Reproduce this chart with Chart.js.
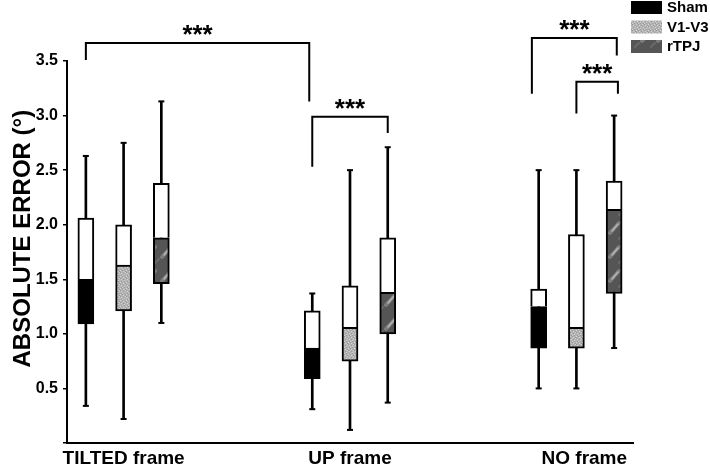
<!DOCTYPE html>
<html>
<head>
<meta charset="utf-8">
<script src="https://cdn.jsdelivr.net/npm/chart.js@4/dist/chart.umd.min.js"></script>
<style>
  html, body { margin: 0; padding: 0; background: #fff; }
  #wrap { width: 710px; height: 468px; }
</style>
</head>
<body>
<div id="wrap"><canvas id="myChart" width="710" height="468"></canvas></div>
<script>
// grupos (eje x) y condiciones
const grupos = ['TILTED frame', 'UP frame', 'NO frame'];
const condiciones = ['Sham', 'V1-V3', 'rTPJ'];

// [min, q1, mediana, q3, max] por grupo
const sham = [[0.34, 1.09, 1.50, 2.06, 2.63], [0.31, 0.59, 0.87, 1.21, 1.37], [0.50, 0.87, 1.25, 1.41, 2.50]];
const v1v3 = [[0.22, 1.21, 1.63, 2.00, 2.75], [0.12, 0.75, 1.06, 1.44, 2.50], [0.50, 0.87, 1.06, 1.91, 2.50]];
const rtpj = [[1.10, 1.46, 1.88, 2.38, 3.13], [0.37, 1.00, 1.38, 1.88, 2.71], [0.87, 1.37, 2.14, 2.40, 3.00]];

const yTicks = [0.5, 1.0, 1.5, 2.0, 2.5, 3.0, 3.5];

// corchetes de significancia (x en posiciones de caja, y en valores)
const corchetes = [
  { x1: 0, x2: 5.92, top: 3.665, y1: 3.51, y2: 3.13, texto: '***' },
  { x1: 6, x2: 8, top: 2.99, y1: 2.53, y2: 2.84, texto: '***' },
  { x1: 11.82, x2: 14.07, top: 3.71, y1: 3.20, y2: 3.55, texto: '***' },
  { x1: 13, x2: 14.1, top: 3.31, y1: 3.02, y2: 3.20, texto: '***' }
];

const FUENTE = "'Liberation Sans', Arial, sans-serif";

// texturas
function patronGris() {
  const c = document.createElement('canvas');
  c.width = 6; c.height = 6;
  const g = c.getContext('2d');
  g.fillStyle = '#b4b4b4';
  g.fillRect(0, 0, 6, 6);
  const claros = [[0, 0], [3, 1], [1, 3], [4, 4], [2, 5], [5, 2]];
  const oscuros = [[2, 0], [5, 1], [0, 2], [3, 3], [1, 5], [4, 5]];
  g.fillStyle = '#d2d2d2';
  claros.forEach(p => g.fillRect(p[0], p[1], 1, 1));
  g.fillStyle = '#989898';
  oscuros.forEach(p => g.fillRect(p[0], p[1], 1, 1));
  return g.createPattern(c, 'repeat');
}

function patronRayas() {
  const c = document.createElement('canvas');
  c.width = 16; c.height = 24;
  const g = c.getContext('2d');
  g.fillStyle = '#555555';
  g.fillRect(0, 0, 16, 24);
  g.lineCap = 'round';
  g.strokeStyle = '#7c7c7c';
  g.lineWidth = 4;
  g.beginPath();
  g.moveTo(2, 17); g.lineTo(11, 7);
  g.stroke();
  g.strokeStyle = '#b8b8b8';
  g.lineWidth = 1.5;
  g.beginPath();
  g.moveTo(4, 15); g.lineTo(10, 8);
  g.stroke();
  g.strokeStyle = '#6a6a6a';
  g.lineWidth = 2;
  g.beginPath();
  g.moveTo(11, 23); g.lineTo(15, 19);
  g.stroke();
  return g.createPattern(c, 'repeat');
}

const rellenos = ['#000000', patronGris(), patronRayas()];
const datosPorCond = [sham, v1v3, rtpj];

// 15 posiciones: cada grupo ocupa 3 cajas y deja 3 huecos
const nSlots = 15;
const etiquetas = [];
for (let i = 0; i < nSlots; i++) etiquetas.push('');
grupos.forEach((g, gi) => { etiquetas[gi * 6 + 1] = g; });

const bigote = [], inferior = [], superior = [], minimos = [], maximos = [], colores = [];
for (let i = 0; i < nSlots; i++) {
  bigote.push(null); inferior.push(null); superior.push(null);
  minimos.push(null); maximos.push(null); colores.push('#fff');
}
grupos.forEach((g, gi) => {
  condiciones.forEach((c, ci) => {
    const s = gi * 6 + ci;
    const d = datosPorCond[ci][gi];
    bigote[s] = [d[0], d[4]];
    inferior[s] = [d[1], d[2]];
    superior[s] = [d[2], d[3]];
    minimos[s] = d[0];
    maximos[s] = d[4];
    colores[s] = rellenos[ci];
  });
});

const pluginExtras = {
  id: 'extras',
  afterDatasetsDraw(chart) {
    const ctx = chart.ctx;
    const x = chart.scales.x, y = chart.scales.y;
    ctx.save();
    ctx.strokeStyle = '#000';
    ctx.lineWidth = 2;
    ctx.fillStyle = '#000';
    ctx.font = "bold 26px " + FUENTE;
    ctx.textAlign = 'center';
    ctx.textBaseline = 'middle';
    corchetes.forEach(b => {
      const xa = x.getPixelForValue(b.x1), xb = x.getPixelForValue(b.x2);
      const yt = y.getPixelForValue(b.top);
      ctx.beginPath();
      ctx.moveTo(xa, y.getPixelForValue(b.y1));
      ctx.lineTo(xa, yt);
      ctx.lineTo(xb, yt);
      ctx.lineTo(xb, y.getPixelForValue(b.y2));
      ctx.stroke();
      ctx.fillText(b.texto, (xa + xb) / 2, yt - 7);
    });

    // leyenda
    const leyX = 631, leyY = 1, paso = 19.5;
    const muestras = ['#000000', patronGris(), patronRayas()];
    ctx.font = "bold 15px " + FUENTE;
    ctx.textAlign = 'left';
    condiciones.forEach((c, i) => {
      ctx.fillStyle = muestras[i];
      ctx.fillRect(leyX, leyY + i * paso, 31, 13);
      ctx.fillStyle = '#000';
      ctx.fillText(c, leyX + 36, leyY + i * paso + 7);
    });
    ctx.restore();
  }
};

const ctx = document.getElementById('myChart').getContext('2d');
const chart = new Chart(ctx, {
  data: {
    labels: etiquetas,
    datasets: [
      {
        type: 'bar', label: 'bigote', data: bigote,
        backgroundColor: '#000', barThickness: 2, grouped: false, order: 3
      },
      {
        type: 'bar', label: 'q1-mediana', data: inferior,
        backgroundColor: colores, borderColor: '#000', borderWidth: 2,
        borderSkipped: false, barThickness: 16, grouped: false, order: 2
      },
      {
        type: 'bar', label: 'mediana-q3', data: superior,
        backgroundColor: '#fff', borderColor: '#000', borderWidth: 2,
        borderSkipped: 'bottom', barThickness: 16, grouped: false, order: 2
      },
      {
        type: 'line', label: 'min', data: minimos, showLine: false,
        pointStyle: 'line', pointRadius: 3, borderColor: '#000', borderWidth: 2, order: 0
      },
      {
        type: 'line', label: 'max', data: maximos, showLine: false,
        pointStyle: 'line', pointRadius: 3, borderColor: '#000', borderWidth: 2, order: 0
      }
    ]
  },
  options: {
    responsive: false,
    animation: false,
    layout: { padding: { top: 61, right: 77, left: 0, bottom: 0 } },
    plugins: {
      legend: { display: false },
      tooltip: { enabled: false }
    },
    scales: {
      x: {
        type: 'category',
        offset: true,
        grid: { display: false },
        border: { display: true, color: '#000', width: 2 },
        ticks: {
          autoSkip: false, maxRotation: 0, minRotation: 0, padding: -4,
          color: '#000',
          font: { family: FUENTE, size: 19, weight: 'bold' },
          // la última etiqueta va algo desplazada a la derecha
          callback: function (v, i) {
            const t = this.getLabelForValue(v);
            return i === 13 ? '\u00a0\u00a0\u00a0' + t : t;
          }
        },
        afterFit(scale) { scale.height = 25; }
      },
      y: {
        min: 0, max: 3.5,
        afterBuildTicks(scale) {
          scale.ticks = [0].concat(yTicks).map(v => ({ value: v }));
        },
        grid: { drawOnChartArea: false, drawTicks: true, tickLength: 4, color: '#000', lineWidth: 1.5 },
        border: { display: true, color: '#000', width: 2 },
        ticks: {
          color: '#000', padding: 5,
          font: { family: FUENTE, size: 16, weight: 'bold' },
          callback: v => (v === 0 ? '' : v.toFixed(1))
        },
        title: {
          display: true, text: '\u00a0\u00a0\u00a0\u00a0ABSOLUTE ERROR (°)', color: '#000',
          font: { family: FUENTE, size: 24, weight: 'bold' },
          padding: { top: 9, bottom: 0 }
        },
        afterFit(scale) { scale.width = 67; }
      }
    }
  },
  plugins: [pluginExtras]
});
</script>
</body>
</html>
